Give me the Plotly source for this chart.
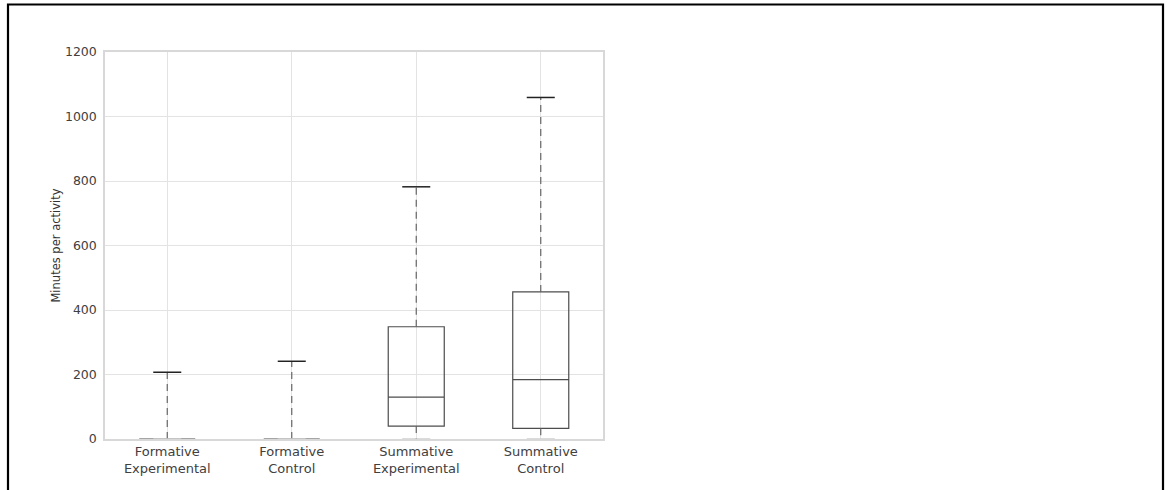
import plotly.graph_objects as go

categories = ["Formative<br>Experimental", "Formative<br>Control",
              "Summative<br>Experimental", "Summative<br>Control"]
lower_whisker = [0, 0, 0, 0]
q1 = [0, 0, 40, 33]
median = [0, 0, 130, 184]
q3 = [0, 0, 348, 456]
upper_whisker = [207, 241, 782, 1059]
y_ticks = [0, 200, 400, 600, 800, 1000, 1200]

BOX_W = 0.45
CAP_HALF = BOX_W / 4
pos = list(range(len(categories)))

fig = go.Figure()

# dashed whiskers
wx, wy = [], []
for i in pos:
    wx += [i, i, None, i, i, None]
    wy += [q3[i], upper_whisker[i], None, q1[i], lower_whisker[i], None]
fig.add_trace(go.Scatter(x=wx, y=wy, mode="lines",
                         line=dict(color="#666666", width=1.2, dash="7px,5px"),
                         hoverinfo="skip", showlegend=False))

# boxes
fig.add_trace(go.Box(x=pos, q1=q1, median=median, q3=q3,
                     lowerfence=q1, upperfence=q3,
                     width=BOX_W, whiskerwidth=0,
                     line=dict(color="#4d4d4d", width=1.2),
                     fillcolor="rgba(255,255,255,0)",
                     boxpoints=False, showlegend=False))

# upper caps
cx, cy = [], []
for i in pos:
    cx += [i - CAP_HALF, i + CAP_HALF, None]
    cy += [upper_whisker[i], upper_whisker[i], None]
fig.add_trace(go.Scatter(x=cx, y=cy, mode="lines",
                         line=dict(color="#222222", width=1.5),
                         hoverinfo="skip", showlegend=False))
# lower caps (sit on the axis frame, appear faint)
lx, ly = [], []
for i in pos:
    lx += [i - CAP_HALF, i + CAP_HALF, None]
    ly += [lower_whisker[i], lower_whisker[i], None]
fig.add_trace(go.Scatter(x=lx, y=ly, mode="lines",
                         line=dict(color="#cfcfcf", width=1.5),
                         hoverinfo="skip", showlegend=False))

axis_common = dict(showline=True, linecolor="#d8d8d8", linewidth=1.5, mirror=True,
                   showgrid=True, gridcolor="#e3e3e3", gridwidth=1,
                   zeroline=False)

fig.update_xaxes(range=[-0.5, 3.5], tickmode="array", tickvals=pos, ticktext=categories,
                 ticks="", ticklabelstandoff=0,
                 tickfont=dict(family="DejaVu Sans", size=13, color="#404040"),
                 **axis_common)
fig.update_yaxes(range=[0, 1200], tickmode="array", tickvals=y_ticks,
                 ticks="outside", ticklen=4, tickcolor="rgba(0,0,0,0)",
                 tickfont=dict(family="DejaVu Sans", size=12.5, color="#404040"),
                 title=dict(text="Minutes per activity",
                            font=dict(family="DejaVu Sans", size=11.5, color="#333333"),
                            standoff=2),
                 **axis_common)

fig.add_shape(type="rect", xref="paper", yref="paper",
              x0=(8 - 105) / 498, x1=(1163 - 105) / 498,
              y0=-0.2, y1=1 + (52 - 4.5) / 387,
              line=dict(color="black", width=2.2), fillcolor="rgba(0,0,0,0)", layer="above")

fig.update_layout(width=1167, height=490,
                  margin=dict(l=105, r=564, t=52, b=51, autoexpand=False),
                  plot_bgcolor="white", paper_bgcolor="white",
                  font=dict(family="DejaVu Sans"), showlegend=False)

fig.write_html("out.html", config={"displayModeBar": False},
               post_script="document.body.style.margin='0';")
